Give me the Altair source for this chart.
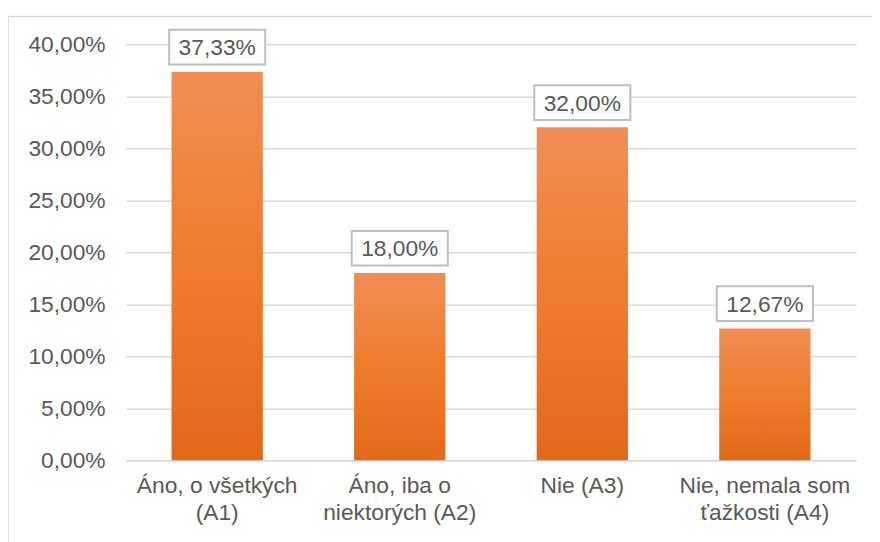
import altair as alt
import pandas as pd

categories = ["Áno, o všetkých\n(A1)", "Áno, iba o\nniektorých (A2)", "Nie (A3)", "Nie, nemala som\nťažkosti (A4)"]
values = [0.3733, 0.18, 0.32, 0.1267]
y_ticks = [0, 0.05, 0.10, 0.15, 0.20, 0.25, 0.30, 0.35, 0.40]

df = pd.DataFrame({"cat": categories, "val": values})

FONT = "Liberation Sans"
TXT = "#595959"
GRID = "#D9D9D9"

x_enc = alt.X(
    "cat:N", sort=categories, title=None,
    scale=alt.Scale(paddingInner=0.5, paddingOuter=0.25),
    axis=alt.Axis(
        labelAngle=0, labelFont=FONT, labelFontSize=23, labelColor=TXT,
        labelExpr="split(datum.label, '\\n')", labelLineHeight=27,
        labelPadding=15, ticks=False, domain=True, domainColor=GRID,
        domainWidth=1.5, labelBaseline="top", labelLimit=300,
    ),
)
y_enc = alt.Y(
    "val:Q", title=None,
    scale=alt.Scale(domain=[0, 0.40], nice=False),
    axis=alt.Axis(
        values=y_ticks, labelExpr="replace(format(datum.value, '.2%'), '.', ',')",
        labelFont=FONT, labelFontSize=23, labelColor=TXT, labelPadding=21,
        ticks=False, domain=False, grid=True, gridColor=GRID, gridWidth=1.5,
    ),
)

base = alt.Chart(df)

frame = base.mark_rect(fill=None, stroke=GRID, strokeWidth=1.5).encode(
    x=alt.value(-119), x2=alt.value(760), y=alt.value(-28), y2=alt.value(510)
).transform_filter("datum.cat == 'Nie (A3)'")

bars = base.mark_bar(
    color=alt.Gradient(
        gradient="linear",
        stops=[
            alt.GradientStop(color="#F18E55", offset=0),
            alt.GradientStop(color="#EF7C2C", offset=0.5),
            alt.GradientStop(color="#E3691A", offset=1),
        ],
        x1=0, x2=0, y1=0, y2=1,
    )
).encode(x=x_enc, y=y_enc)

boxes = base.mark_point(
    shape="M-1,-0.361L1,-0.361L1,0.361L-1,0.361Z",
    size=9409, filled=True, fill="white", stroke="#BFBFBF", strokeWidth=2, opacity=1,
    yOffset=-25,
).encode(x=alt.X("cat:N", sort=categories), y="val:Q")

labels = base.mark_text(
    font=FONT, fontSize=23, color=TXT, baseline="middle", yOffset=-24,
).transform_calculate(
    lbl="replace(format(datum.val, '.2%'), '.', ',')"
).encode(x=alt.X("cat:N", sort=categories), y="val:Q", text="lbl:N")

chart = alt.layer(frame, bars, boxes, labels).properties(
    width=737, height=420,
    autosize=alt.AutoSizeParams(type="none"),
    padding={"left": 119, "top": 34, "right": 16, "bottom": 80},
).configure_view(stroke=None)

chart.save("out.html", embed_options={"renderer": "svg", "actions": False})
